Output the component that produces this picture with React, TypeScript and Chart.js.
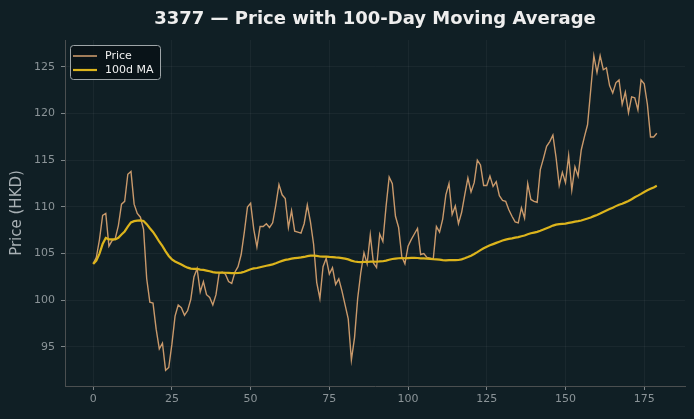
import React, { useEffect, useRef } from "react";
import { Chart, registerables } from "chart.js";

Chart.register(...registerables);

// Daily closing prices for 3377 (HKD), trading days 0..179
const prices: number[] = [
  103.9, 104.6, 106.5, 109.1, 109.3, 105.8, 106.4, 106.6, 108.0, 110.3,
  110.6, 113.5, 113.8, 110.3, 109.3, 108.9, 107.6, 102.3, 99.8, 99.7,
  96.9, 94.8, 95.4, 92.5, 92.8, 95.3, 98.3, 99.5, 99.2, 98.4,
  98.9, 100.1, 102.5, 103.4, 100.9, 102.0, 100.6, 100.3, 99.5, 100.6,
  102.9, 103.0, 102.8, 102.0, 101.8, 103.0, 103.6, 104.9, 107.3, 110.0,
  110.4, 107.6, 105.7, 107.9, 107.9, 108.2, 107.8, 108.3, 110.2, 112.4,
  111.3, 110.9, 107.8, 109.6, 107.4, 107.3, 107.2, 108.2, 110.2, 108.4,
  106.0, 101.9, 100.2, 103.6, 104.5, 102.8, 103.5, 101.7, 102.3, 101.0,
  99.5, 98.0, 93.6, 96.0, 100.2, 103.0, 105.1, 103.9, 107.0, 104.0,
  103.5, 107.1, 106.3, 110.0, 113.2, 112.5, 109.0, 107.8, 104.7, 103.9,
  105.8, 106.5, 107.1, 107.7, 104.9, 105.0, 104.6, 104.5, 104.4, 107.9,
  107.3, 108.7, 111.3, 112.5, 109.2, 110.1, 108.2, 109.4, 111.3, 113.1,
  111.6, 112.6, 115.0, 114.5, 112.3, 112.3, 113.3, 112.2, 112.7, 111.2,
  110.7, 110.6, 109.7, 109.0, 108.4, 108.3, 109.9, 108.8, 112.5, 110.8,
  110.6, 110.5, 114.0, 115.2, 116.5, 117.0, 117.7, 115.3, 112.3, 113.7,
  112.6, 115.5, 111.8, 114.3, 113.3, 116.1, 117.5, 118.8, 122.5, 126.2,
  124.4, 126.2, 124.7, 124.9, 123.0, 122.2, 123.3, 123.6, 121.0, 122.3,
  120.1, 121.8, 121.7, 120.4, 123.6, 123.2, 121.0, 117.5, 117.5, 117.9,
];

const maWindow = 100;
const xTicks: number[] = [0, 25, 50, 75, 100, 125, 150, 175];
const yTicks: number[] = [95, 100, 105, 110, 115, 120, 125];

const titleText = "3377 \u2014 Price with 100-Day Moving Average";
const yLabel = "Price (HKD)";
const seriesNames = ["Price", "100d MA"];

const BG = "#101f25";
const PRICE_COLOR = "#c9996b";
const MA_COLOR = "#dcb41c";
const FONT = "'DejaVu Sans', sans-serif";

// Trailing mean over up to maWindow days (shorter window at the start)
function movingAverage(vals: number[], win: number): number[] {
  const out: number[] = [];
  let sum = 0;
  for (let i = 0; i < vals.length; i++) {
    sum += vals[i];
    if (i >= win) sum -= vals[i - win];
    out.push(sum / Math.min(i + 1, win));
  }
  return out;
}

export default function App() {
  const canvasRef = useRef<HTMLCanvasElement | null>(null);

  useEffect(() => {
    document.body.style.margin = "0";
    document.body.style.background = BG;
    const canvas = canvasRef.current;
    if (!canvas) return;

    const ma = movingAverage(prices, maWindow);
    const priceData = prices.map((v, i) => ({ x: i, y: v }));
    const maData = ma.map((v, i) => ({ x: i, y: v }));

    const n = prices.length - 1;
    const lo = Math.min(...prices, ...ma);
    const hi = Math.max(...prices, ...ma);
    const xPad = n * 0.05;
    const yPad = (hi - lo) * 0.05;

    const decor = {
      id: "decor",
      beforeDraw(chart: any) {
        const ctx = chart.ctx;
        ctx.save();
        ctx.fillStyle = BG;
        ctx.fillRect(0, 0, chart.width, chart.height);
        ctx.restore();
      },
      afterDraw(chart: any) {
        const ctx = chart.ctx;
        const area = chart.chartArea;
        ctx.save();
        // title
        ctx.fillStyle = "#eeeeee";
        ctx.font = `bold 18px ${FONT}`;
        ctx.textAlign = "center";
        ctx.textBaseline = "middle";
        ctx.fillText(titleText, (area.left + area.right) / 2, 19);
        // y-axis label
        ctx.save();
        ctx.translate(17, (area.top + area.bottom) / 2);
        ctx.rotate(-Math.PI / 2);
        ctx.fillStyle = "#a9b1b5";
        ctx.font = `15px ${FONT}`;
        ctx.fillText(yLabel, 0, 0);
        ctx.restore();
        // legend
        const lx = area.left + 5;
        const ly = area.top + 5;
        const lw = 90;
        const lh = 34;
        ctx.beginPath();
        ctx.roundRect(lx + 0.5, ly + 0.5, lw, lh, 3);
        ctx.fillStyle = "rgba(8,18,22,0.85)";
        ctx.fill();
        ctx.strokeStyle = "#9ea5a8";
        ctx.lineWidth = 1;
        ctx.stroke();
        const rows = [
          { label: seriesNames[0], color: PRICE_COLOR, w: 1.6, y: ly + 11 },
          { label: seriesNames[1], color: MA_COLOR, w: 2.2, y: ly + 25 },
        ];
        ctx.font = `11px ${FONT}`;
        ctx.textAlign = "left";
        for (const r of rows) {
          ctx.beginPath();
          ctx.moveTo(lx + 3, r.y);
          ctx.lineTo(lx + 27, r.y);
          ctx.strokeStyle = r.color;
          ctx.lineWidth = r.w;
          ctx.stroke();
          ctx.fillStyle = "#f0f0f0";
          ctx.fillText(r.label, lx + 35, r.y);
        }
        ctx.restore();
      },
    };

    const chart = new Chart(canvas, {
      type: "line",
      data: {
        datasets: [
          {
            label: seriesNames[0],
            data: priceData,
            borderColor: PRICE_COLOR,
            borderWidth: 1.4,
            pointRadius: 0,
            tension: 0,
            order: 1,
          },
          {
            label: seriesNames[1],
            data: maData,
            borderColor: MA_COLOR,
            borderWidth: 2.2,
            pointRadius: 0,
            tension: 0,
            order: 0,
          },
        ],
      },
      options: {
        animation: false,
        responsive: false,
        devicePixelRatio: 1,
        layout: { padding: { top: 40, right: 9, left: 0, bottom: 0 } },
        plugins: {
          legend: { display: false },
          title: { display: false },
          tooltip: { enabled: false },
        },
        scales: {
          x: {
            type: "linear",
            min: -xPad,
            max: n + xPad,
            afterBuildTicks: (axis: any) => {
              axis.ticks = xTicks.map((v) => ({ value: v }));
            },
            afterFit: (axis: any) => {
              axis.height = 33;
            },
            ticks: {
              color: "#8b9498",
              font: { family: FONT, size: 11 },
              padding: 3,
              maxRotation: 0,
            },
            grid: {
              color: "rgba(255,255,255,0.045)",
              tickColor: "#7d8588",
              tickLength: 4,
              lineWidth: 1,
            },
            border: { color: "#4b4f50", width: 1 },
          },
          y: {
            type: "linear",
            min: lo - yPad,
            max: hi + yPad,
            afterBuildTicks: (axis: any) => {
              axis.ticks = yTicks.map((v) => ({ value: v }));
            },
            afterFit: (axis: any) => {
              axis.width = 65;
            },
            ticks: {
              color: "#8b9498",
              font: { family: FONT, size: 11 },
              padding: 6,
            },
            grid: {
              color: "rgba(255,255,255,0.045)",
              tickColor: "#7d8588",
              tickLength: 4,
              lineWidth: 1,
            },
            border: { color: "#4b4f50", width: 1 },
          },
        },
      },
      plugins: [decor],
    });

    return () => chart.destroy();
  }, []);

  return (
    <div style={{ width: 694, height: 419, background: BG }}>
      <canvas ref={canvasRef} width={694} height={419} style={{ display: "block" }} />
    </div>
  );
}
